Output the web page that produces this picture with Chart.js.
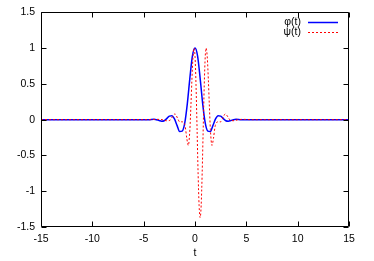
<!DOCTYPE html>
<html>
<head>
<meta charset="utf-8">
<script src="https://cdn.jsdelivr.net/npm/chart.js@4/dist/chart.umd.min.js"></script>
<style>
  html, body { margin: 0; padding: 0; background: #fff; }
  canvas { display: block; }
</style>
</head>
<body>
<canvas id="c" width="374" height="261"></canvas>
<script>
// ---- data ----
const phiT = [-15, -4.5, -4, -3.75, -3.5, -3.25, -3, -2.75, -2.5, -2.25, -2, -1.75, -1.5, -1.25, -1, -0.75, -0.5, -0.25,
              0, 0.25, 0.5, 0.75, 1, 1.25, 1.5, 1.75, 2, 2.25, 2.5, 2.75, 3, 3.25, 3.5, 3.75, 4, 4.5, 15];
const phiV = [0, 0, 0.005, 0, -0.012, -0.022, -0.015, 0.015, 0.05, 0.055, 0.01, -0.08, -0.165, -0.16, -0.05, 0.22, 0.58, 0.89,
              1.00, 0.89, 0.58, 0.22, -0.05, -0.16, -0.165, -0.08, 0.01, 0.055, 0.05, 0.015, -0.015, -0.022, -0.012, 0, 0.005, 0, 0];

const psiT = [-15, -4.5, -3.7, -3.2, -2.8, -2.45, -2.2, -1.95, -1.7, -1.5, -1.3, -1.1, -0.95, -0.8, -0.65, -0.5, -0.4, -0.3, -0.2, -0.08,
              0.0, 0.1, 0.2, 0.3, 0.4, 0.5, 0.6, 0.7, 0.8, 0.9, 1.0, 1.08, 1.2, 1.3, 1.4, 1.5, 1.65, 1.8, 1.95, 2.1,
              2.3, 2.5, 2.7, 2.95, 3.2, 3.45, 3.8, 4.2, 4.7, 5.5, 15];
const psiV = [0, 0, 0.004, 0, -0.015, -0.01, 0.04, 0.08, 0.02, -0.03, -0.03, -0.04, -0.10, -0.26, -0.36, -0.14, 0.19, 0.56, 0.86, 1.00,
              0.89, 0.48, -0.12, -0.74, -1.20, -1.37, -1.20, -0.74, -0.12, 0.48, 0.89, 1.00, 0.86, 0.56, 0.19, -0.14, -0.36, -0.26, -0.10, -0.04,
              -0.03, -0.03, 0.02, 0.08, 0.04, -0.01, -0.015, 0, 0.004, 0, 0];

const xTicks = [-15, -10, -5, 0, 5, 10, 15];
const xTickLabels = ['-15', '-10', '-5', '0', '5', '10', '15'];
const yTicks = [-1.5, -1, -0.5, 0, 0.5, 1, 1.5];
const yTickLabels = ['-1.5', '-1', '-0.5', '0', '0.5', '1', '1.5'];
const seriesNames = ['\u03C6(t)', '\u03C8(t)'];
const xTitle = 't';

// ---- styling ----
const FONT = { family: '"Liberation Sans", Arial, sans-serif', size: 10.5 };
const BLUE = 'rgb(0,0,255)';
const RED = 'rgb(255,0,0)';

const toPts = (T, V) => T.map((t, i) => ({ x: t, y: V[i] }));

const frame = {
  id: 'frame',
  afterDraw(chart) {
    const { ctx, chartArea: a, scales: { x, y } } = chart;
    const L = Math.round(a.left) + 0.5, R = Math.round(a.right) - 0.5;
    const T = Math.round(a.top) + 0.5, B = Math.round(a.bottom) - 0.5;
    ctx.save();
    ctx.strokeStyle = '#000';
    ctx.lineWidth = 1;
    ctx.beginPath();
    ctx.rect(L, T, R - L, B - T);
    const tl = 5;
    xTicks.forEach(v => {
      const p = Math.round(x.getPixelForValue(v)) + 0.5;
      ctx.moveTo(p, B); ctx.lineTo(p, B - tl);
      ctx.moveTo(p, T); ctx.lineTo(p, T + tl);
    });
    yTicks.forEach(v => {
      const p = Math.round(y.getPixelForValue(v)) + 0.5;
      ctx.moveTo(L, p); ctx.lineTo(L + tl, p);
      ctx.moveTo(R, p); ctx.lineTo(R - tl, p);
    });
    ctx.stroke();

    // gnuplot-style key: text, then line sample
    ctx.font = FONT.size + 'px ' + FONT.family;
    ctx.textAlign = 'right';
    ctx.textBaseline = 'middle';
    ctx.fillStyle = '#000';
    const keyX = 301, keyY = [22, 32], s0 = 308, s1 = 338;
    chart.data.datasets.forEach((ds, i) => {
      ctx.fillText(seriesNames[i], keyX, keyY[i]);
      ctx.beginPath();
      ctx.strokeStyle = ds.borderColor;
      ctx.lineWidth = ds.borderWidth;
      ctx.setLineDash(ds.borderDash || []);
      ctx.moveTo(s0, keyY[i] + 0.5);
      ctx.lineTo(s1, keyY[i] + 0.5);
      ctx.stroke();
    });
    ctx.restore();
  }
};

new Chart(document.getElementById('c'), {
  type: 'line',
  data: {
    datasets: [
      { label: seriesNames[0], data: toPts(phiT, phiV), borderColor: BLUE, borderWidth: 1.5,
        pointRadius: 0, cubicInterpolationMode: 'monotone', fill: false, order: 1 },
      { label: seriesNames[1], data: toPts(psiT, psiV), borderColor: RED, borderWidth: 1, borderDash: [2, 2],
        pointRadius: 0, cubicInterpolationMode: 'monotone', fill: false, order: 0 }
    ]
  },
  options: {
    responsive: false,
    animation: false,
    devicePixelRatio: 1,
    layout: { padding: { left: 0, right: 25, top: 12, bottom: 0 } },
    plugins: { legend: { display: false }, tooltip: { enabled: false } },
    scales: {
      x: {
        type: 'linear', min: -15, max: 15,
        afterBuildTicks: s => { s.ticks = xTicks.map(v => ({ value: v })); },
        afterFit: s => { s.height = 34; },
        grid: { display: false, drawTicks: false },
        border: { display: false },
        ticks: { font: FONT, color: '#000', padding: 6, maxRotation: 0,
                 callback: (v) => xTickLabels[xTicks.indexOf(v)] },
        title: { display: true, text: xTitle, font: FONT, color: '#000', padding: { top: 0, bottom: 2 } }
      },
      y: {
        type: 'linear', min: -1.5, max: 1.5,
        afterBuildTicks: s => { s.ticks = yTicks.map(v => ({ value: v })); },
        afterFit: s => { s.width = 41; },
        grid: { display: false, drawTicks: false },
        border: { display: false },
        ticks: { font: FONT, color: '#000', padding: 6,
                 callback: (v) => yTickLabels[yTicks.indexOf(v)] }
      }
    }
  },
  plugins: [frame]
});
</script>
</body>
</html>
